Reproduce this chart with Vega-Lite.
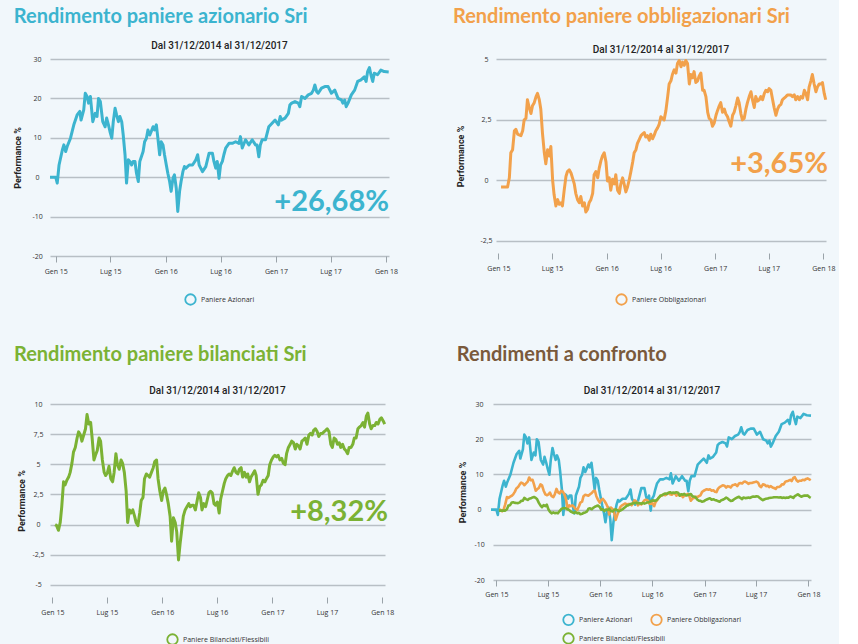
{
"$schema": "https://vega.github.io/schema/vega-lite/v6.json",
"background": "#f1f7fb",
"padding": {"left": 13, "top": 7, "right": 4, "bottom": 0},
"config": {
  "view": {"stroke": null},
  "font": "Open Sans",
  "axis": {"labelFont": "Open Sans", "labelFontSize": 7, "labelColor": "#333333", "titleFont": "Roboto", "titleFontSize": 9, "titleFontWeight": "bold", "titleColor": "#222222"},
  "legend": {"labelFont": "Open Sans", "labelFontSize": 7, "labelColor": "#333333", "layout": {"bottom": {"anchor": "middle", "direction": "vertical", "margin": 3}}}
},
"datasets": {
"az": [
{"d":"2014-12-13","v":0},{"d":"2015-01-01","v":0},{"d":"2015-01-06","v":-1.5},{"d":"2015-01-12","v":3.1},{"d":"2015-01-23","v":6.9},{"d":"2015-01-28","v":8.2},{"d":"2015-02-03","v":6.5},{"d":"2015-02-08","v":7.8},{"d":"2015-02-19","v":9.9},{"d":"2015-03-02","v":13.3},{"d":"2015-03-13","v":15.8},{"d":"2015-03-22","v":16.7},{"d":"2015-03-26","v":14.5},{"d":"2015-04-04","v":17.1},{"d":"2015-04-09","v":21.3},{"d":"2015-04-15","v":20.5},{"d":"2015-04-20","v":18.8},{"d":"2015-04-26","v":20.5},{"d":"2015-05-04","v":14.1},{"d":"2015-05-12","v":16.2},{"d":"2015-05-18","v":15.4},{"d":"2015-05-23","v":20.0},{"d":"2015-05-29","v":19.2},{"d":"2015-06-06","v":14.1},{"d":"2015-06-14","v":12.8},{"d":"2015-06-19","v":15.0},{"d":"2015-06-25","v":13.3},{"d":"2015-06-30","v":11.6},{"d":"2015-07-06","v":9.9},{"d":"2015-07-11","v":14.1},{"d":"2015-07-17","v":17.5},{"d":"2015-07-22","v":15.8},{"d":"2015-07-28","v":14.1},{"d":"2015-08-02","v":15.4},{"d":"2015-08-08","v":14.1},{"d":"2015-08-13","v":10.7},{"d":"2015-08-19","v":5.7},{"d":"2015-08-24","v":-1.5},{"d":"2015-08-30","v":4.4},{"d":"2015-09-04","v":4.0},{"d":"2015-09-10","v":3.1},{"d":"2015-09-15","v":4.0},{"d":"2015-09-21","v":4.0},{"d":"2015-09-26","v":1.0},{"d":"2015-10-02","v":-1.1},{"d":"2015-10-07","v":4.0},{"d":"2015-10-18","v":6.5},{"d":"2015-10-23","v":9.0},{"d":"2015-10-29","v":9.9},{"d":"2015-11-03","v":12.0},{"d":"2015-11-09","v":10.7},{"d":"2015-11-14","v":11.6},{"d":"2015-11-20","v":12.8},{"d":"2015-11-25","v":12.0},{"d":"2015-12-01","v":13.3},{"d":"2015-12-06","v":9.9},{"d":"2015-12-12","v":5.7},{"d":"2015-12-17","v":9.0},{"d":"2015-12-23","v":8.2},{"d":"2015-12-28","v":5.7},{"d":"2016-01-03","v":3.1},{"d":"2016-01-08","v":1.0},{"d":"2016-01-14","v":-1.1},{"d":"2016-01-19","v":-3.6},{"d":"2016-01-25","v":-0.3},{"d":"2016-01-30","v":0.6},{"d":"2016-02-05","v":-2.8},{"d":"2016-02-10","v":-8.7},{"d":"2016-02-16","v":-3.6},{"d":"2016-02-21","v":-1.1},{"d":"2016-02-27","v":1.4},{"d":"2016-03-03","v":2.7},{"d":"2016-03-08","v":2.3},{"d":"2016-03-19","v":3.1},{"d":"2016-03-30","v":3.1},{"d":"2016-04-10","v":4.4},{"d":"2016-04-16","v":5.7},{"d":"2016-04-21","v":3.1},{"d":"2016-05-02","v":1.4},{"d":"2016-05-13","v":2.7},{"d":"2016-05-24","v":6.1},{"d":"2016-06-04","v":6.1},{"d":"2016-06-09","v":4.0},{"d":"2016-06-15","v":2.3},{"d":"2016-06-20","v":4.0},{"d":"2016-06-26","v":-0.3},{"d":"2016-07-01","v":3.1},{"d":"2016-07-07","v":4.0},{"d":"2016-07-12","v":5.7},{"d":"2016-07-18","v":7.4},{"d":"2016-07-29","v":8.6},{"d":"2016-08-09","v":8.6},{"d":"2016-08-20","v":9.0},{"d":"2016-08-31","v":8.6},{"d":"2016-09-05","v":10.3},{"d":"2016-09-11","v":7.4},{"d":"2016-09-22","v":9.5},{"d":"2016-10-03","v":8.2},{"d":"2016-10-14","v":9.5},{"d":"2016-10-25","v":8.2},{"d":"2016-10-30","v":8.2},{"d":"2016-11-05","v":5.2},{"d":"2016-11-10","v":8.2},{"d":"2016-11-16","v":9.5},{"d":"2016-11-27","v":9.5},{"d":"2016-12-08","v":12.8},{"d":"2016-12-19","v":13.7},{"d":"2016-12-29","v":14.5},{"d":"2017-01-09","v":13.3},{"d":"2017-01-15","v":15.4},{"d":"2017-01-20","v":14.5},{"d":"2017-01-31","v":15.0},{"d":"2017-02-11","v":16.2},{"d":"2017-02-16","v":18.3},{"d":"2017-02-22","v":18.8},{"d":"2017-03-05","v":19.2},{"d":"2017-03-16","v":18.8},{"d":"2017-03-21","v":17.9},{"d":"2017-03-27","v":20.5},{"d":"2017-04-07","v":20.0},{"d":"2017-04-18","v":20.9},{"d":"2017-04-29","v":21.3},{"d":"2017-05-05","v":22.1},{"d":"2017-05-10","v":23.4},{"d":"2017-05-16","v":21.7},{"d":"2017-05-21","v":21.3},{"d":"2017-06-01","v":22.6},{"d":"2017-06-12","v":23.0},{"d":"2017-06-23","v":23.0},{"d":"2017-07-04","v":21.3},{"d":"2017-07-15","v":22.1},{"d":"2017-07-26","v":20.0},{"d":"2017-08-06","v":19.6},{"d":"2017-08-11","v":18.8},{"d":"2017-08-17","v":19.6},{"d":"2017-08-22","v":17.9},{"d":"2017-08-28","v":18.8},{"d":"2017-09-08","v":20.9},{"d":"2017-09-19","v":22.1},{"d":"2017-09-29","v":24.3},{"d":"2017-10-10","v":24.7},{"d":"2017-10-21","v":25.5},{"d":"2017-10-27","v":24.3},{"d":"2017-11-01","v":26.8},{"d":"2017-11-07","v":27.8},{"d":"2017-11-12","v":26.0},{"d":"2017-11-18","v":24.3},{"d":"2017-11-23","v":26.4},{"d":"2017-12-04","v":26.0},{"d":"2017-12-15","v":27.2},{"d":"2017-12-26","v":26.8},{"d":"2018-01-10","v":26.7}
],
"ob": [
{"d":"2015-01-10","ob":-0.28,"bi":0},{"d":"2015-01-15","ob":-0.28,"bi":-0.08},{"d":"2015-01-21","ob":-0.28,"bi":-0.47},{"d":"2015-01-27","ob":-0.28,"bi":0.18},{"d":"2015-02-01","ob":-0.28,"bi":1.48},{"d":"2015-02-07","ob":0.10,"bi":3.55},{"d":"2015-02-12","ob":1.13,"bi":3.29},{"d":"2015-02-18","ob":1.26,"bi":3.68},{"d":"2015-02-24","ob":2.04,"bi":3.94},{"d":"2015-03-01","ob":2.10,"bi":4.33},{"d":"2015-03-07","ob":1.90,"bi":5.10},{"d":"2015-03-12","ob":1.87,"bi":6.01},{"d":"2015-03-18","ob":1.84,"bi":6.40},{"d":"2015-03-24","ob":2.04,"bi":7.18},{"d":"2015-03-29","ob":2.49,"bi":7.69},{"d":"2015-04-04","ob":2.55,"bi":7.43},{"d":"2015-04-09","ob":3.32,"bi":6.92},{"d":"2015-04-15","ob":3.00,"bi":7.43},{"d":"2015-04-21","ob":2.75,"bi":7.95},{"d":"2015-04-26","ob":3.07,"bi":9.12},{"d":"2015-05-02","ob":3.20,"bi":8.34},{"d":"2015-05-08","ob":3.45,"bi":8.47},{"d":"2015-05-13","ob":3.58,"bi":7.18},{"d":"2015-05-19","ob":3.32,"bi":5.36},{"d":"2015-05-24","ob":2.94,"bi":5.75},{"d":"2015-05-30","ob":1.90,"bi":6.14},{"d":"2015-06-05","ob":1.13,"bi":7.18},{"d":"2015-06-10","ob":0.68,"bi":6.92},{"d":"2015-06-16","ob":1.26,"bi":5.36},{"d":"2015-06-22","ob":1.00,"bi":4.33},{"d":"2015-06-27","ob":1.39,"bi":4.07},{"d":"2015-07-03","ob":0.00,"bi":4.33},{"d":"2015-07-08","ob":-0.60,"bi":4.84},{"d":"2015-07-14","ob":-1.06,"bi":3.81},{"d":"2015-07-20","ob":-0.80,"bi":3.55},{"d":"2015-07-25","ob":-0.99,"bi":4.33},{"d":"2015-07-31","ob":-0.93,"bi":5.88},{"d":"2015-08-05","ob":-1.06,"bi":4.97},{"d":"2015-08-11","ob":-0.41,"bi":4.59},{"d":"2015-08-17","ob":0.16,"bi":5.36},{"d":"2015-08-22","ob":0.36,"bi":5.10},{"d":"2015-08-28","ob":0.43,"bi":4.33},{"d":"2015-09-03","ob":0.30,"bi":2.77},{"d":"2015-09-08","ob":0.10,"bi":0.18},{"d":"2015-09-14","ob":-0.15,"bi":1.22},{"d":"2015-09-19","ob":-0.54,"bi":0.96},{"d":"2015-09-25","ob":-0.80,"bi":1.22},{"d":"2015-10-01","ob":-0.93,"bi":0.70},{"d":"2015-10-06","ob":-0.67,"bi":0.18},{"d":"2015-10-12","ob":-1.06,"bi":-0.08},{"d":"2015-10-18","ob":-0.93,"bi":0.96},{"d":"2015-10-23","ob":-1.31,"bi":2.00},{"d":"2015-10-29","ob":-1.19,"bi":2.25},{"d":"2015-11-03","ob":-0.93,"bi":3.81},{"d":"2015-11-09","ob":-0.80,"bi":4.20},{"d":"2015-11-15","ob":-0.54,"bi":4.07},{"d":"2015-11-20","ob":0.23,"bi":3.94},{"d":"2015-11-26","ob":0.36,"bi":4.33},{"d":"2015-12-02","ob":0.10,"bi":4.72},{"d":"2015-12-07","ob":0.49,"bi":5.23},{"d":"2015-12-13","ob":0.81,"bi":5.36},{"d":"2015-12-18","ob":1.00,"bi":3.81},{"d":"2015-12-24","ob":1.13,"bi":2.77},{"d":"2015-12-30","ob":0.75,"bi":2.00},{"d":"2016-01-04","ob":-0.03,"bi":2.77},{"d":"2016-01-10","ob":0.10,"bi":3.03},{"d":"2016-01-15","ob":-0.41,"bi":2.51},{"d":"2016-01-21","ob":0.04,"bi":1.74},{"d":"2016-01-27","ob":-0.15,"bi":0.70},{"d":"2016-02-01","ob":0.23,"bi":-1.37},{"d":"2016-02-07","ob":-0.41,"bi":0.57},{"d":"2016-02-13","ob":-0.54,"bi":0.18},{"d":"2016-02-18","ob":-0.15,"bi":-0.60},{"d":"2016-02-24","ob":0.10,"bi":-2.93},{"d":"2016-02-29","ob":-0.15,"bi":-1.63},{"d":"2016-03-06","ob":-0.48,"bi":-0.34},{"d":"2016-03-11","ob":-0.30,"bi":0.70},{"d":"2016-03-17","ob":0.00,"bi":1.22},{"d":"2016-03-23","ob":0.36,"bi":1.48},{"d":"2016-03-29","ob":0.75,"bi":1.74},{"d":"2016-04-03","ob":1.13,"bi":1.48},{"d":"2016-04-09","ob":1.26,"bi":1.61},{"d":"2016-04-14","ob":1.52,"bi":1.61},{"d":"2016-04-20","ob":1.68,"bi":1.22},{"d":"2016-04-26","ob":1.84,"bi":2.00},{"d":"2016-05-01","ob":1.90,"bi":2.64},{"d":"2016-05-07","ob":1.97,"bi":2.25},{"d":"2016-05-12","ob":1.78,"bi":1.22},{"d":"2016-05-18","ob":1.84,"bi":1.74},{"d":"2016-05-24","ob":1.65,"bi":1.48},{"d":"2016-05-29","ob":1.90,"bi":2.00},{"d":"2016-06-04","ob":1.71,"bi":2.64},{"d":"2016-06-09","ob":1.84,"bi":2.77},{"d":"2016-06-15","ob":2.04,"bi":2.64},{"d":"2016-06-21","ob":2.16,"bi":1.74},{"d":"2016-06-26","ob":2.29,"bi":1.61},{"d":"2016-07-02","ob":2.62,"bi":1.87},{"d":"2016-07-08","ob":2.55,"bi":0.96},{"d":"2016-07-13","ob":2.49,"bi":2.12},{"d":"2016-07-19","ob":2.87,"bi":2.77},{"d":"2016-07-25","ob":3.45,"bi":3.42},{"d":"2016-07-30","ob":3.97,"bi":3.81},{"d":"2016-08-05","ob":4.10,"bi":4.07},{"d":"2016-08-10","ob":4.36,"bi":4.20},{"d":"2016-08-16","ob":4.55,"bi":4.07},{"d":"2016-08-22","ob":4.42,"bi":4.46},{"d":"2016-08-27","ob":4.81,"bi":4.72},{"d":"2016-09-02","ob":4.94,"bi":4.33},{"d":"2016-09-08","ob":4.68,"bi":4.20},{"d":"2016-09-13","ob":4.87,"bi":4.59},{"d":"2016-09-19","ob":4.74,"bi":4.72},{"d":"2016-09-24","ob":4.94,"bi":3.94},{"d":"2016-09-30","ob":4.81,"bi":4.33},{"d":"2016-10-06","ob":3.97,"bi":3.94},{"d":"2016-10-11","ob":4.36,"bi":4.20},{"d":"2016-10-17","ob":4.23,"bi":3.55},{"d":"2016-10-22","ob":4.48,"bi":3.94},{"d":"2016-10-28","ob":4.03,"bi":4.20},{"d":"2016-11-03","ob":4.10,"bi":4.46},{"d":"2016-11-08","ob":4.29,"bi":4.07},{"d":"2016-11-14","ob":4.42,"bi":2.51},{"d":"2016-11-20","ob":3.71,"bi":3.16},{"d":"2016-11-25","ob":3.71,"bi":3.29},{"d":"2016-12-01","ob":3.45,"bi":3.68},{"d":"2016-12-07","ob":2.80,"bi":3.55},{"d":"2016-12-12","ob":2.55,"bi":3.81},{"d":"2016-12-18","ob":2.49,"bi":4.07},{"d":"2016-12-23","ob":2.23,"bi":4.97},{"d":"2016-12-29","ob":2.36,"bi":5.36},{"d":"2017-01-04","ob":2.68,"bi":5.62},{"d":"2017-01-09","ob":2.87,"bi":5.75},{"d":"2017-01-15","ob":3.07,"bi":5.62},{"d":"2017-01-20","ob":3.20,"bi":5.75},{"d":"2017-01-26","ob":2.80,"bi":5.36},{"d":"2017-02-01","ob":2.94,"bi":5.49},{"d":"2017-02-06","ob":2.74,"bi":5.10},{"d":"2017-02-12","ob":2.62,"bi":4.97},{"d":"2017-02-17","ob":2.42,"bi":5.88},{"d":"2017-02-23","ob":2.23,"bi":6.40},{"d":"2017-03-01","ob":2.68,"bi":6.66},{"d":"2017-03-06","ob":2.80,"bi":6.92},{"d":"2017-03-12","ob":3.07,"bi":6.79},{"d":"2017-03-18","ob":3.39,"bi":6.27},{"d":"2017-03-23","ob":3.20,"bi":6.66},{"d":"2017-03-29","ob":2.74,"bi":6.53},{"d":"2017-04-03","ob":2.49,"bi":6.27},{"d":"2017-04-09","ob":2.55,"bi":6.92},{"d":"2017-04-15","ob":2.94,"bi":7.05},{"d":"2017-04-20","ob":3.20,"bi":7.18},{"d":"2017-04-26","ob":3.45,"bi":6.66},{"d":"2017-05-02","ob":3.65,"bi":7.43},{"d":"2017-05-07","ob":3.32,"bi":7.56},{"d":"2017-05-13","ob":3.00,"bi":7.43},{"d":"2017-05-18","ob":3.45,"bi":7.82},{"d":"2017-05-24","ob":3.26,"bi":7.95},{"d":"2017-05-30","ob":3.32,"bi":7.69},{"d":"2017-06-04","ob":3.45,"bi":7.31},{"d":"2017-06-10","ob":3.32,"bi":7.56},{"d":"2017-06-16","ob":3.58,"bi":7.56},{"d":"2017-06-21","ob":3.71,"bi":7.69},{"d":"2017-06-27","ob":3.65,"bi":7.82},{"d":"2017-07-02","ob":3.78,"bi":7.95},{"d":"2017-07-08","ob":3.71,"bi":7.69},{"d":"2017-07-14","ob":3.32,"bi":6.66},{"d":"2017-07-19","ob":3.00,"bi":6.40},{"d":"2017-07-25","ob":2.68,"bi":7.18},{"d":"2017-07-31","ob":2.94,"bi":7.05},{"d":"2017-08-05","ob":3.07,"bi":6.66},{"d":"2017-08-11","ob":3.13,"bi":6.79},{"d":"2017-08-16","ob":3.32,"bi":6.40},{"d":"2017-08-22","ob":3.39,"bi":6.66},{"d":"2017-08-28","ob":3.45,"bi":6.27},{"d":"2017-09-02","ob":3.52,"bi":6.14},{"d":"2017-09-08","ob":3.52,"bi":5.88},{"d":"2017-09-13","ob":3.52,"bi":6.40},{"d":"2017-09-19","ob":3.45,"bi":6.40},{"d":"2017-09-25","ob":3.52,"bi":6.66},{"d":"2017-09-30","ob":3.32,"bi":7.18},{"d":"2017-10-06","ob":3.45,"bi":7.18},{"d":"2017-10-12","ob":3.32,"bi":7.95},{"d":"2017-10-17","ob":3.45,"bi":8.08},{"d":"2017-10-23","ob":3.39,"bi":8.21},{"d":"2017-10-29","ob":3.71,"bi":8.47},{"d":"2017-11-03","ob":3.58,"bi":8.08},{"d":"2017-11-09","ob":3.32,"bi":8.99},{"d":"2017-11-14","ob":3.84,"bi":9.25},{"d":"2017-11-20","ob":4.10,"bi":8.34},{"d":"2017-11-25","ob":4.36,"bi":7.95},{"d":"2017-12-01","ob":3.97,"bi":8.21},{"d":"2017-12-07","ob":3.65,"bi":8.21},{"d":"2017-12-12","ob":3.84,"bi":8.47},{"d":"2017-12-18","ob":3.97,"bi":8.34},{"d":"2017-12-24","ob":3.97,"bi":8.73},{"d":"2017-12-29","ob":4.03,"bi":8.86},{"d":"2018-01-04","ob":3.58,"bi":8.60},{"d":"2018-01-09","ob":3.32,"bi":8.34}
]
},
"columns": 1,
"spacing": 36,
"resolve": {"scale": {"color": "independent", "stroke": "independent"}},
"concat": [
{
 "spacing": 54,
 "resolve": {"scale": {"color": "independent", "stroke": "independent"}},
 "hconcat": [
  {
   "title": {"text": "Rendimento paniere azionario Sri", "color": "#3cb4cf", "anchor": "start", "font": "Lato", "fontSize": 20, "fontWeight": "bold", "offset": 14},
   "resolve": {"scale": {"color": "independent"}},
   "vconcat": [{
    "title": {"text": "Dal 31/12/2014 al 31/12/2017", "anchor": "middle", "font": "Roboto", "fontSize": 10, "fontWeight": 500, "color": "#222222", "offset": 4},
    "width": 339, "height": 197,
    "layer": [
     {"data": {"name": "az"}, "mark": {"type": "line", "strokeWidth": 3, "strokeJoin": "round"},
      "encoding": {
       "x": {"field": "d", "type": "temporal", "scale": {"domain": [{"year": 2014, "month": 12, "date": 13}, {"year": 2018, "month": 1, "date": 11}]},
             "axis": {"title": null, "grid": false, "domain": false, "tickColor": "#9aa3a9", "tickSize": 6, "labelPadding": 5, "tickCount": 12,
                      "values": [{"year": 2015, "month": 1, "date": 1}, {"year": 2015, "month": 7, "date": 1}, {"year": 2016, "month": 1, "date": 1}, {"year": 2016, "month": 7, "date": 1}, {"year": 2017, "month": 1, "date": 1}, {"year": 2017, "month": 7, "date": 1}, {"year": 2018, "month": 1, "date": 1}],
                      "labelExpr": "(month(datum.value) == 0 ? 'Gen ' : 'Lug ') + timeFormat(datum.value, '%y')"}},
       "y": {"field": "v", "type": "quantitative", "scale": {"domain": [-20, 30]},
             "axis": {"title": "Performance %", "values": [-20, -10, 0, 10, 20, 30], "tickCount": 12, "labelExpr": "replace(toString(datum.value), '.', ',')", "grid": true, "gridColor": "#b8bfc5", "gridWidth": 1.5, "domain": false, "ticks": false, "labelAlign": "center", "labelPadding": 13, "titlePadding": 9}},
       "color": {"datum": "Paniere Azionari", "type": "nominal", "scale": {"domain": ["Paniere Azionari"], "range": ["#3cb4cf"]},
                 "legend": {"title": null, "orient": "bottom", "offset": 19, "symbolType": "circle", "symbolSize": 110, "symbolStrokeWidth": 1.8, "symbolFillColor": "transparent"}}
      }},
     {"data": {"values": [{}]}, "mark": {"type": "text", "text": "+26,68%", "font": "Lato", "fontSize": 29, "fontWeight": "bold", "color": "#3cb4cf", "align": "right", "baseline": "alphabetic", "dx": 0},
      "encoding": {"x": {"datum": {"year": 2018, "month": 1, "date": 11}, "type": "temporal"}, "y": {"datum": -8.6, "type": "quantitative"}}}
    ]
   }]
  },
  {
   "title": {"text": "Rendimento paniere obbligazionari Sri", "color": "#f2a14b", "anchor": "start", "font": "Lato", "fontSize": 20, "fontWeight": "bold", "offset": 18, "dx": -4},
   "resolve": {"scale": {"color": "independent"}},
   "vconcat": [{
    "title": {"text": "Dal 31/12/2014 al 31/12/2017", "anchor": "middle", "font": "Roboto", "fontSize": 10, "fontWeight": 500, "color": "#222222", "offset": 0},
    "width": 330, "height": 194,
    "layer": [
     {"data": {"name": "ob"}, "mark": {"type": "line", "strokeWidth": 3, "strokeJoin": "round"},
      "encoding": {
       "x": {"field": "d", "type": "temporal", "scale": {"domain": [{"year": 2014, "month": 12, "date": 24}, {"year": 2018, "month": 1, "date": 10}]},
             "axis": {"title": null, "grid": false, "domain": false, "tickColor": "#9aa3a9", "tickSize": 6, "labelPadding": 5, "tickCount": 12,
                      "values": [{"year": 2015, "month": 1, "date": 1}, {"year": 2015, "month": 7, "date": 1}, {"year": 2016, "month": 1, "date": 1}, {"year": 2016, "month": 7, "date": 1}, {"year": 2017, "month": 1, "date": 1}, {"year": 2017, "month": 7, "date": 1}, {"year": 2018, "month": 1, "date": 1}],
                      "labelExpr": "(month(datum.value) == 0 ? 'Gen ' : 'Lug ') + timeFormat(datum.value, '%y')"}},
       "y": {"field": "ob", "type": "quantitative", "scale": {"domain": [-2.5, 5]},
             "axis": {"title": "Performance %", "values": [-2.5, 0, 2.5, 5], "tickCount": 12, "labelExpr": "replace(toString(datum.value), '.', ',')", "grid": true, "gridColor": "#b8bfc5", "gridWidth": 1.5, "domain": false, "ticks": false, "labelAlign": "center", "labelPadding": 10, "titlePadding": 14}},
       "color": {"datum": "Paniere Obbligazionari", "type": "nominal", "scale": {"domain": ["Paniere Obbligazionari"], "range": ["#f2a14b"]},
                 "legend": {"title": null, "orient": "bottom", "offset": 22, "symbolType": "circle", "symbolSize": 110, "symbolStrokeWidth": 1.8, "symbolFillColor": "transparent"}}
      }},
     {"data": {"values": [{}]}, "mark": {"type": "text", "text": "+3,65%", "font": "Lato", "fontSize": 29, "fontWeight": "bold", "color": "#f2a14b", "align": "right", "baseline": "alphabetic", "dx": 2},
      "encoding": {"x": {"datum": {"year": 2018, "month": 1, "date": 10}, "type": "temporal"}, "y": {"datum": 0.3, "type": "quantitative"}}}
    ]
   }]
  }
 ]
},
{
 "spacing": 62,
 "resolve": {"scale": {"color": "independent", "stroke": "independent"}},
 "hconcat": [
  {
   "title": {"text": "Rendimento paniere bilanciati Sri", "color": "#7bb234", "anchor": "start", "font": "Lato", "fontSize": 20, "fontWeight": "bold", "offset": 21, "dx": -4},
   "resolve": {"scale": {"color": "independent"}},
   "vconcat": [{
    "title": {"text": "Dal 31/12/2014 al 31/12/2017", "anchor": "middle", "font": "Roboto", "fontSize": 10, "fontWeight": 500, "color": "#222222", "offset": 4},
    "width": 335, "height": 193,
    "layer": [
     {"data": {"name": "ob"}, "mark": {"type": "line", "strokeWidth": 3, "strokeJoin": "round"},
      "encoding": {
       "x": {"field": "d", "type": "temporal", "scale": {"domain": [{"year": 2014, "month": 12, "date": 24}, {"year": 2018, "month": 1, "date": 10}]},
             "axis": {"title": null, "grid": false, "domain": false, "tickColor": "#9aa3a9", "tickSize": 6, "labelPadding": 5, "tickCount": 12,
                      "values": [{"year": 2015, "month": 1, "date": 1}, {"year": 2015, "month": 7, "date": 1}, {"year": 2016, "month": 1, "date": 1}, {"year": 2016, "month": 7, "date": 1}, {"year": 2017, "month": 1, "date": 1}, {"year": 2017, "month": 7, "date": 1}, {"year": 2018, "month": 1, "date": 1}],
                      "labelExpr": "(month(datum.value) == 0 ? 'Gen ' : 'Lug ') + timeFormat(datum.value, '%y')"}},
       "y": {"field": "bi", "type": "quantitative", "scale": {"domain": [-5, 10]},
             "axis": {"title": "Performance %", "values": [-5, -2.5, 0, 2.5, 5, 7.5, 10], "tickCount": 12, "labelExpr": "replace(toString(datum.value), '.', ',')", "grid": true, "gridColor": "#b8bfc5", "gridWidth": 1.5, "domain": false, "ticks": false, "labelAlign": "center", "labelPadding": 12, "titlePadding": 5}},
       "color": {"datum": "Paniere Bilanciati/Flessibili", "type": "nominal", "scale": {"domain": ["Paniere Bilanciati/Flessibili"], "range": ["#7bb234"]},
                 "legend": {"title": null, "orient": "bottom", "offset": 18, "symbolType": "circle", "symbolSize": 110, "symbolStrokeWidth": 1.8, "symbolFillColor": "transparent"}}
      }},
     {"data": {"values": [{}]}, "mark": {"type": "text", "text": "+8,32%", "font": "Lato", "fontSize": 29, "fontWeight": "bold", "color": "#7bb234", "align": "right", "baseline": "alphabetic", "dx": 3},
      "encoding": {"x": {"datum": {"year": 2018, "month": 1, "date": 10}, "type": "temporal"}, "y": {"datum": 0.3, "type": "quantitative"}}}
    ]
   }]
  },
  {
   "title": {"text": "Rendimenti a confronto", "color": "#7a5a3c", "anchor": "start", "font": "Lato", "fontSize": 20, "fontWeight": "bold", "offset": 21, "dx": -2},
   "resolve": {"scale": {"color": "independent", "stroke": "independent"}},
   "vconcat": [{
    "title": {"text": "Dal 31/12/2014 al 31/12/2017", "anchor": "middle", "font": "Roboto", "fontSize": 10, "fontWeight": 500, "color": "#222222", "offset": 4},
    "width": 318, "height": 176,
    "layer": [
     {"data": {"name": "az"}, "mark": {"type": "line", "strokeWidth": 2.6, "strokeJoin": "round"},
      "encoding": {
       "x": {"field": "d", "type": "temporal", "scale": {"domain": [{"year": 2014, "month": 12, "date": 20}, {"year": 2018, "month": 1, "date": 10}]},
             "axis": {"title": null, "grid": false, "domain": false, "tickColor": "#9aa3a9", "tickSize": 6, "labelPadding": 4, "tickCount": 12,
                      "values": [{"year": 2015, "month": 1, "date": 1}, {"year": 2015, "month": 7, "date": 1}, {"year": 2016, "month": 1, "date": 1}, {"year": 2016, "month": 7, "date": 1}, {"year": 2017, "month": 1, "date": 1}, {"year": 2017, "month": 7, "date": 1}, {"year": 2018, "month": 1, "date": 1}],
                      "labelExpr": "(month(datum.value) == 0 ? 'Gen ' : 'Lug ') + timeFormat(datum.value, '%y')"}},
       "y": {"field": "v", "type": "quantitative", "scale": {"domain": [-20, 30]},
             "axis": {"title": "Performance %", "values": [-20, -10, 0, 10, 20, 30], "tickCount": 12, "labelExpr": "replace(toString(datum.value), '.', ',')", "grid": true, "gridColor": "#b8bfc5", "gridWidth": 1.5, "domain": false, "ticks": false, "labelAlign": "center", "labelPadding": 14, "titlePadding": 6}},
       "color": {"datum": "Paniere Azionari", "type": "nominal", "scale": {"domain": ["Paniere Azionari", "Paniere Obbligazionari"], "range": ["#3cb4cf", "#f2a14b"]},
                 "legend": {"title": null, "orient": "bottom", "offset": 16, "direction": "horizontal", "columnPadding": 14, "symbolType": "circle", "symbolSize": 110, "symbolStrokeWidth": 1.8, "symbolFillColor": "transparent"}}
      }},
     {"data": {"name": "ob"}, "mark": {"type": "line", "strokeWidth": 2.6, "strokeJoin": "round"},
      "encoding": {"x": {"field": "d", "type": "temporal"}, "y": {"field": "bi", "type": "quantitative"}, "color": {"datum": "Paniere Obbligazionari", "type": "nominal"}}},
     {"data": {"name": "ob"}, "mark": {"type": "line", "strokeWidth": 2.6, "strokeJoin": "round"},
      "encoding": {"x": {"field": "d", "type": "temporal"}, "y": {"field": "ob", "type": "quantitative"},
                   "stroke": {"datum": "Paniere Bilanciati/Flessibili", "type": "nominal", "scale": {"domain": ["Paniere Bilanciati/Flessibili"], "range": ["#7bb234"]},
                              "legend": {"title": null, "orient": "bottom", "symbolType": "circle", "symbolSize": 110, "symbolStrokeWidth": 1.8, "symbolFillColor": "transparent"}}}}
    ]
   }]
  }
 ]
}
]
}
